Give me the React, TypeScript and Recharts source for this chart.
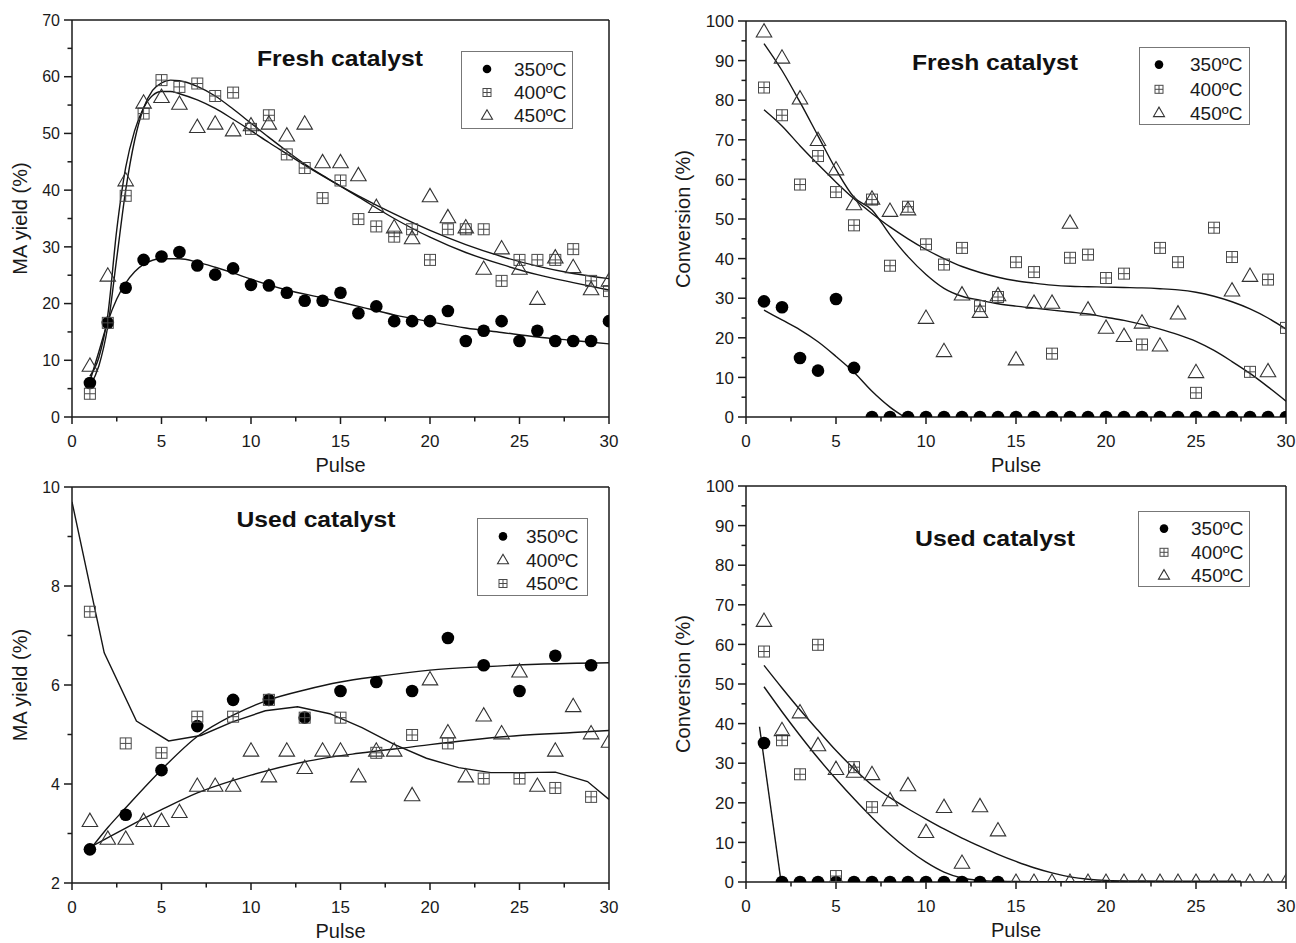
import React from 'react';
import { ComposedChart, XAxis, YAxis, Scatter, Line, ReferenceLine, Legend } from 'recharts';

const FONT = '"Liberation Sans", Arimo, Arial, Helvetica, sans-serif';
const AXIS = '#1a1a1a';
const TXT = '#1a1a1a';
const XAXIS_H = 30;
const YAXIS_W = 40;

// ---------- shared ticks ----------
const xTicks = [0, 2.5, 5, 7.5, 10, 12.5, 15, 17.5, 20, 22.5, 25, 27.5, 30];
const yieldTicksFresh = [0, 5, 10, 15, 20, 25, 30, 35, 40, 45, 50, 55, 60, 65, 70];
const yieldTicksUsed = [2, 3, 4, 5, 6, 7, 8, 9, 10];
const convTicks = [0, 5, 10, 15, 20, 25, 30, 35, 40, 45, 50, 55, 60, 65, 70, 75, 80, 85, 90, 95, 100];

const pulses = [1, 2, 3, 4, 5, 6, 7, 8, 9, 10, 11, 12, 13, 14, 15, 16, 17, 18, 19, 20, 21, 22, 23, 24, 25, 26, 27, 28, 29, 30];
const pulsesOdd = [1, 3, 5, 7, 9, 11, 13, 15, 17, 19, 21, 23, 25, 27, 29];

// ---------- Fresh catalyst, MA yield ----------
const fy350 = [6.0, 16.6, 22.8, 27.7, 28.3, 29.1, 26.7, 25.1, 26.2, 23.3, 23.2, 21.9, 20.5, 20.5, 21.9, 18.3, 19.5, 16.9, 16.9, 16.9, 18.7, 13.4, 15.2, 16.9, 13.4, 15.2, 13.4, 13.4, 13.4, 16.9];
const fy400 = [4.1, 16.6, 39.0, 53.5, 59.4, 58.2, 58.8, 56.6, 57.2, 50.8, 53.2, 46.3, 43.9, 38.6, 41.7, 34.9, 33.6, 31.8, 33.1, 27.7, 33.1, 33.1, 33.1, 24.0, 27.7, 27.7, 27.7, 29.6, 24.0, 22.2];
const fy450 = [9.0, 24.9, 41.7, 55.4, 56.4, 55.2, 51.1, 51.7, 50.5, 51.4, 51.7, 49.6, 51.7, 44.9, 44.9, 42.6, 37.0, 33.4, 31.5, 38.9, 35.2, 33.4, 26.1, 29.7, 26.1, 20.8, 28.1, 26.4, 22.5, 24.0];
const fyFit350X = [1, 1.5, 2, 2.5, 3, 3.5, 4, 5, 6, 7, 8, 9, 10, 12, 14, 16, 18, 20, 22, 24, 26, 28, 30];
const fyFit350 = [6.3, 11.5, 16.8, 20.8, 23.6, 25.6, 26.9, 27.9, 27.9, 27.3, 26.4, 25.4, 24.3, 22.4, 21.0, 19.5, 18.0, 16.8, 15.7, 14.9, 14.1, 13.5, 12.9];
const fyFitX = [1, 1.5, 2, 2.5, 3, 3.5, 4, 4.5, 5, 5.5, 6, 7, 8, 9, 10, 11, 12, 13, 14, 15, 16, 18, 20, 22, 24, 26, 28, 30];
const fyFit400 = [5.5, 9.0, 16.0, 28.0, 40.0, 48.8, 54.5, 57.6, 58.9, 59.4, 59.3, 58.3, 56.6, 54.3, 51.8, 49.3, 46.9, 44.6, 42.6, 40.7, 38.8, 35.0, 31.7, 29.0, 26.9, 25.1, 23.7, 22.4];
const fyFit450 = [7.2, 10.5, 18.0, 33.0, 44.0, 50.5, 54.5, 56.7, 57.4, 57.4, 57.0, 55.9, 54.4, 52.5, 50.5, 48.4, 46.4, 44.4, 42.5, 40.7, 39.0, 35.8, 32.9, 30.4, 28.3, 26.6, 25.3, 24.4];

// ---------- Fresh catalyst, conversion ----------
const fc350 = [29.2, 27.7, 14.9, 11.7, 29.8, 12.4, 0, 0, 0, 0, 0, 0, 0, 0, 0, 0, 0, 0, 0, 0, 0, 0, 0, 0, 0, 0, 0, 0, 0, 0];
const fc400 = [83.2, 76.2, 58.7, 65.9, 56.8, 48.4, 54.9, 38.2, 53.1, 43.6, 38.5, 42.7, 28.0, 30.3, 39.1, 36.6, 16.0, 40.2, 41.0, 35.1, 36.2, 18.3, 42.7, 39.1, 6.1, 47.8, 40.4, 11.4, 34.7, 22.5];
const fc450X = [1, 2, 3, 4, 5, 6, 7, 8, 9, 10, 11, 12, 13, 14, 15, 16, 17, 18, 19, 20, 21, 22, 23, 24, 25, 27, 28, 29];
const fc450 = [97.3, 90.7, 80.4, 69.9, 62.5, 53.7, 55.1, 52.0, 52.4, 25.0, 16.6, 30.9, 26.5, 30.7, 14.5, 28.8, 28.8, 49.0, 27.1, 22.5, 20.4, 23.8, 18.0, 26.1, 11.3, 31.9, 35.6, 11.5];
const fcFit350X = [1, 2, 3, 4, 5, 6, 7, 8, 8.8];
const fcFit350 = [27.0, 24.5, 22.0, 19.0, 15.3, 11.3, 6.5, 2.5, 0];
const fcFit400 = [77.6, 73.5, 68.5, 63.8, 59.3, 55.1, 51.4, 48.0, 45.0, 42.3, 40.0, 38.0, 36.5, 35.3, 34.4, 33.8, 33.3, 33.0, 32.9, 32.8, 32.7, 32.6, 32.4, 32.1, 31.5, 30.5, 29.1, 27.3, 25.0, 22.2];
const fcFit450 = [94.3, 87.5, 79.5, 71.0, 62.5, 55.5, 52.3, 46.0, 40.5, 36.0, 32.5, 30.5, 29.5, 28.6, 28.0, 27.5, 27.0, 26.5, 26.0, 25.2, 24.4, 23.4, 22.2, 20.8, 19.1, 16.8, 14.0, 11.0, 7.6, 4.0];

// ---------- Used catalyst, MA yield ----------
const uy350 = [2.68, 3.38, 4.28, 5.17, 5.70, 5.70, 5.34, 5.88, 6.06, 5.88, 6.95, 6.40, 5.88, 6.59, 6.40];
const uy400 = [3.25, 2.89, 2.89, 3.25, 3.25, 3.43, 3.96, 3.96, 3.96, 4.67, 4.15, 4.67, 4.32, 4.67, 4.67, 4.15, 4.67, 4.67, 3.77, 6.11, 5.04, 4.15, 5.38, 5.02, 6.27, 3.96, 4.67, 5.57, 5.02, 4.85];
const uy450 = [7.48, 4.82, 4.63, 5.36, 5.36, 5.70, 5.34, 5.34, 4.63, 4.99, 4.82, 4.11, 4.11, 3.92, 3.74];
const uyFit350X = [1, 2, 3, 5, 7, 9, 11, 13, 15, 17, 20, 23, 26, 30];
const uyFit350 = [2.67, 3.12, 3.52, 4.29, 4.96, 5.39, 5.70, 5.90, 6.06, 6.17, 6.30, 6.37, 6.42, 6.45];
const uyFit400X = [1, 3, 5, 7, 10, 13, 16, 19, 22, 25, 28, 30];
const uyFit400 = [2.72, 3.11, 3.48, 3.82, 4.18, 4.45, 4.62, 4.75, 4.88, 4.98, 5.04, 5.08];
const uyFit450X = [0, 1.8, 3.6, 5.4, 7.2, 9.0, 10.8, 12.6, 14.4, 16.2, 18, 19.8, 21.6, 23.4, 25.2, 27, 28.8, 30];
const uyFit450 = [9.7, 6.65, 5.27, 4.87, 4.98, 5.26, 5.48, 5.56, 5.42, 5.14, 4.8, 4.52, 4.33, 4.23, 4.23, 4.24, 4.05, 3.69];

// ---------- Used catalyst, conversion ----------
const uc350X = [1, 2, 3, 4, 5, 6, 7, 8, 9, 10, 11, 12, 13, 14];
const uc350 = [35.1, 0, 0, 0, 0, 0, 0, 0, 0, 0, 0, 0, 0, 0];
const uc400X = [1, 2, 3, 4, 5, 6, 7];
const uc400 = [58.2, 35.8, 27.2, 59.9, 1.5, 29.0, 18.9];
const uc450 = [65.9, 38.3, 42.8, 34.5, 28.5, 27.8, 27.2, 20.6, 24.4, 12.6, 18.9, 4.8, 19.1, 13.0, 0, 0, 0, 0, 0, 0, 0, 0, 0, 0, 0, 0, 0, 0, 0, 0];
const ucFit350X = [0.75, 1.95];
const ucFit350 = [39.2, 0];
const ucFit450X = [1, 2, 3, 4, 5, 6, 7, 8, 9, 10, 11, 12, 13, 14, 15, 16, 17, 18, 19, 20, 22, 24, 26, 27.5];
const ucFit450 = [54.7, 49.0, 43.5, 38.3, 33.2, 28.6, 24.5, 21.3, 18.5, 15.9, 13.4, 11.1, 9.0, 7.0, 5.2, 3.6, 2.3, 1.3, 0.7, 0.4, 0.25, 0.2, 0.2, 0.2];
const ucFit400X = [1, 2, 3, 4, 5, 6, 7, 8, 9, 10, 11, 12, 13, 14, 16, 18, 20, 24, 27.5];
const ucFit400 = [49.3, 43.0, 37.0, 31.3, 26.0, 21.0, 16.3, 12.0, 8.2, 5.0, 2.5, 1.0, 0.4, 0.2, 0.1, 0.1, 0.1, 0.1, 0.1];

const zip = (xs: number[], ys: number[]) => xs.map((x, i) => ({ x, y: ys[i] }));

// ---------- marker shapes ----------
type Kind = 'circle' | 'square' | 'triangle';
function Marker({ kind, cx, cy, small }: { kind: Kind; cx: number; cy: number; small?: boolean }) {
  if (cx == null || cy == null || isNaN(cx) || isNaN(cy)) return null;
  if (kind === 'circle') {
    return <circle cx={cx} cy={cy} r={small ? 4.3 : 6.3} fill="#000" />;
  }
  if (kind === 'square') {
    const s = small ? 8 : 11;
    const h = s / 2;
    return (
      <g stroke="#4a4a4a" strokeWidth={1} fill="none">
        <rect x={cx - h} y={cy - h} width={s} height={s} />
        <line x1={cx} x2={cx} y1={cy - h} y2={cy + h} />
        <line x1={cx - h} x2={cx + h} y1={cy} y2={cy} />
      </g>
    );
  }
  const w = small ? 11 : 15.5;
  const th = w * 0.86;
  const pts = `${cx},${cy - th * 0.6} ${cx - w / 2},${cy + th * 0.4} ${cx + w / 2},${cy + th * 0.4}`;
  return <polygon points={pts} fill="none" stroke="#333" strokeWidth={1.1} strokeLinejoin="miter" />;
}

const shapeFor = (kind: Kind) => (p: any) => <Marker kind={kind} cx={p.cx} cy={p.cy} />;

// ---------- ticks ----------
const makeXTick = (fs: number) => (p: any) => {
  const v = p.payload.value;
  const major = v % 5 === 0;
  return (
    <g>
      <line x1={p.x} x2={p.x} y1={p.y} y2={p.y + (major ? 7 : 4.5)} stroke={AXIS} strokeWidth={1.5} />
      {major ? (
        <text x={p.x} y={p.y + 30} textAnchor="middle" fontSize={fs} fontFamily={FONT} fill={TXT}>
          {v}
        </text>
      ) : null}
    </g>
  );
};

const makeYTick = (fs: number, majorStep: number) => (p: any) => {
  const v = p.payload.value;
  const major = v % majorStep === 0;
  return (
    <g>
      <line x1={p.x - (major ? 8 : 4.5)} x2={p.x} y1={p.y} y2={p.y} stroke={AXIS} strokeWidth={1.5} />
      {major ? (
        <text x={p.x - 12} y={p.y} dy="0.36em" textAnchor="end" fontSize={fs} fontFamily={FONT} fill={TXT}>
          {v}
        </text>
      ) : null}
    </g>
  );
};

// ---------- legend ----------
type LegendItem = { label: string; kind: Kind };
function LegendBox({ items, w, h, rows, mx, tx }: { items: LegendItem[]; w: number; h: number; rows: number[]; mx: number; tx: number }) {
  return (
    <div style={{ width: w, height: h, border: '1px solid #777', background: '#fff', boxSizing: 'border-box' }}>
      <svg width={w - 2} height={h - 2} style={{ display: 'block' }}>
        {items.map((it, i) => (
          <g key={it.label}>
            <Marker kind={it.kind} cx={mx} cy={rows[i]} small />
            <text x={tx} y={rows[i]} dy="0.36em" fontSize={19} fontFamily={FONT} fill={TXT}>
              {it.label}
            </text>
          </g>
        ))}
      </svg>
    </div>
  );
}

type SeriesDef = { name: string; kind: Kind; data: { x: number; y: number }[] };
type FitDef = { name: string; data: { x: number; y: number }[]; type: 'monotone' | 'linear' };

type PanelProps = {
  left: number;
  top: number;
  width: number;
  height: number;
  plot: { top: number; right: number; bottom: number; left: number };
  yDomain: [number, number];
  yTicks: number[];
  yMajor: number;
  yFont: number;
  yLabel: string;
  yLabelOff: number;
  series: SeriesDef[];
  fits: FitDef[];
  title: string;
  titleX: number;
  titleY: number;
  titleLen: number;
  legend: LegendItem[];
  lg: { left: number; top: number; w: number; h: number; rows: number[]; mx: number; tx: number };
};

function Panel(p: PanelProps) {
  const margin = {
    top: p.plot.top,
    right: p.plot.right,
    bottom: p.plot.bottom - XAXIS_H,
    left: p.plot.left - YAXIS_W,
  };
  return (
    <div style={{ position: 'absolute', left: p.left, top: p.top, width: p.width, height: p.height }}>
      <ComposedChart width={p.width} height={p.height} margin={margin}>
        <XAxis
          type="number"
          dataKey="x"
          domain={[0, 30]}
          ticks={xTicks}
          interval={0}
          allowDataOverflow
          height={XAXIS_H}
          tickSize={0}
          tickMargin={0}
          tickLine={false}
          axisLine={{ stroke: AXIS, strokeWidth: 1.5 }}
          tick={makeXTick(17)}
          label={(lp: any) => {
            const vb = lp.viewBox || {};
            return (
              <text x={vb.x + vb.width / 2} y={vb.y + 55} textAnchor="middle" fontSize={20} fontFamily={FONT} fill={TXT}>
                Pulse
              </text>
            );
          }}
        />
        <YAxis
          type="number"
          dataKey="y"
          domain={p.yDomain}
          ticks={p.yTicks}
          interval={0}
          allowDataOverflow
          width={YAXIS_W}
          tickSize={0}
          tickMargin={0}
          tickLine={false}
          axisLine={{ stroke: AXIS, strokeWidth: 1.5 }}
          tick={makeYTick(p.yFont, p.yMajor)}
          label={(lp: any) => {
            const vb = lp.viewBox || {};
            const cx = vb.x + vb.width - p.yLabelOff;
            const cy = vb.y + vb.height / 2;
            return (
              <text
                x={cx}
                y={cy}
                transform={`rotate(-90 ${cx} ${cy})`}
                textAnchor="middle"
                dominantBaseline="central"
                fontSize={20}
                fontFamily={FONT}
                fill={TXT}
              >
                {p.yLabel}
              </text>
            );
          }}
        />
        <ReferenceLine y={p.yDomain[1]} stroke={AXIS} strokeWidth={1.5} />
        <ReferenceLine x={30} stroke={AXIS} strokeWidth={1.5} />
        {p.fits.map((f) => (
          <Line
            key={f.name}
            name={f.name}
            data={f.data}
            dataKey="y"
            type={f.type}
            stroke="#151515"
            strokeWidth={1.4}
            dot={false}
            activeDot={false}
            legendType="none"
            isAnimationActive={false}
          />
        ))}
        {p.series.map((s) => (
          <Scatter key={s.name} name={s.name} data={s.data} dataKey="y" shape={shapeFor(s.kind)} isAnimationActive={false} />
        ))}
        <text
          x={p.titleX}
          y={p.titleY}
          textAnchor="middle"
          fontSize={22}
          fontWeight="bold"
          fontFamily={FONT}
          fill="#111"
          textLength={p.titleLen}
          lengthAdjust="spacingAndGlyphs"
        >
          {p.title}
        </text>
        <Legend
          layout="horizontal"
          verticalAlign="middle"
          align="center"
          wrapperStyle={{ left: p.lg.left, top: p.lg.top, width: p.lg.w, height: p.lg.h }}
          content={() => <LegendBox items={p.legend} w={p.lg.w} h={p.lg.h} rows={p.lg.rows} mx={p.lg.mx} tx={p.lg.tx} />}
        />
      </ComposedChart>
    </div>
  );
}

const legendFresh: LegendItem[] = [
  { label: '350ºC', kind: 'circle' },
  { label: '400ºC', kind: 'square' },
  { label: '450ºC', kind: 'triangle' },
];
const legendUsedYield: LegendItem[] = [
  { label: '350ºC', kind: 'circle' },
  { label: '400ºC', kind: 'triangle' },
  { label: '450ºC', kind: 'square' },
];

export default function App() {
  return (
    <div style={{ position: 'absolute', left: 0, top: 0, width: 1296, height: 943, background: '#fff', overflow: 'hidden' }}>
      <Panel
        left={0}
        top={0}
        width={648}
        height={482}
        plot={{ top: 20, right: 39, bottom: 65, left: 72 }}
        yDomain={[0, 70]}
        yTicks={yieldTicksFresh}
        yMajor={10}
        yFont={16}
        yLabel="MA yield (%)"
        yLabelOff={52}
        series={[
          { name: '350', kind: 'circle', data: zip(pulses, fy350) },
          { name: '400', kind: 'square', data: zip(pulses, fy400) },
          { name: '450', kind: 'triangle', data: zip(pulses, fy450) },
        ]}
        fits={[
          { name: 'f350', data: zip(fyFit350X, fyFit350), type: 'monotone' },
          { name: 'f400', data: zip(fyFitX, fyFit400), type: 'monotone' },
          { name: 'f450', data: zip(fyFitX, fyFit450), type: 'monotone' },
        ]}
        title="Fresh catalyst"
        titleX={340}
        titleY={66}
        titleLen={166}
        legend={legendFresh}
        lg={{ left: 461, top: 51, w: 112, h: 78, rows: [17, 40.5, 63.5], mx: 25, tx: 52 }}
      />
      <Panel
        left={648}
        top={0}
        width={648}
        height={482}
        plot={{ top: 21, right: 10, bottom: 65, left: 98 }}
        yDomain={[0, 100]}
        yTicks={convTicks}
        yMajor={10}
        yFont={17}
        yLabel="Conversion (%)"
        yLabelOff={63}
        series={[
          { name: '350', kind: 'circle', data: zip(pulses, fc350) },
          { name: '400', kind: 'square', data: zip(pulses, fc400) },
          { name: '450', kind: 'triangle', data: zip(fc450X, fc450) },
        ]}
        fits={[
          { name: 'f350', data: zip(fcFit350X, fcFit350), type: 'monotone' },
          { name: 'f400', data: zip(pulses, fcFit400), type: 'monotone' },
          { name: 'f450', data: zip(pulses, fcFit450), type: 'monotone' },
        ]}
        title="Fresh catalyst"
        titleX={347}
        titleY={70}
        titleLen={166}
        legend={legendFresh}
        lg={{ left: 491, top: 47, w: 111, h: 78, rows: [16.6, 41.3, 64.8], mx: 19, tx: 50 }}
      />
      <Panel
        left={0}
        top={470}
        width={648}
        height={473}
        plot={{ top: 17, right: 39, bottom: 60, left: 72 }}
        yDomain={[2, 10]}
        yTicks={yieldTicksUsed}
        yMajor={2}
        yFont={16}
        yLabel="MA yield (%)"
        yLabelOff={52}
        series={[
          { name: '350', kind: 'circle', data: zip(pulsesOdd, uy350) },
          { name: '400', kind: 'triangle', data: zip(pulses, uy400) },
          { name: '450', kind: 'square', data: zip(pulsesOdd, uy450) },
        ]}
        fits={[
          { name: 'f350', data: zip(uyFit350X, uyFit350), type: 'monotone' },
          { name: 'f400', data: zip(uyFit400X, uyFit400), type: 'monotone' },
          { name: 'f450', data: zip(uyFit450X, uyFit450), type: 'linear' },
        ]}
        title="Used catalyst"
        titleX={316}
        titleY={57}
        titleLen={159}
        legend={legendUsedYield}
        lg={{ left: 477, top: 48, w: 111, h: 78, rows: [17.4, 41, 64.5], mx: 25, tx: 48 }}
      />
      <Panel
        left={648}
        top={470}
        width={648}
        height={473}
        plot={{ top: 16, right: 10, bottom: 61, left: 98 }}
        yDomain={[0, 100]}
        yTicks={convTicks}
        yMajor={10}
        yFont={17}
        yLabel="Conversion (%)"
        yLabelOff={63}
        series={[
          { name: '350', kind: 'circle', data: zip(uc350X, uc350) },
          { name: '400', kind: 'square', data: zip(uc400X, uc400) },
          { name: '450', kind: 'triangle', data: zip(pulses, uc450) },
        ]}
        fits={[
          { name: 'f350', data: zip(ucFit350X, ucFit350), type: 'linear' },
          { name: 'f400', data: zip(ucFit400X, ucFit400), type: 'monotone' },
          { name: 'f450', data: zip(ucFit450X, ucFit450), type: 'monotone' },
        ]}
        title="Used catalyst"
        titleX={347}
        titleY={76}
        titleLen={160}
        legend={legendFresh}
        lg={{ left: 490, top: 41, w: 112, h: 76, rows: [16.6, 40.3, 63.3], mx: 25, tx: 52 }}
      />
    </div>
  );
}
